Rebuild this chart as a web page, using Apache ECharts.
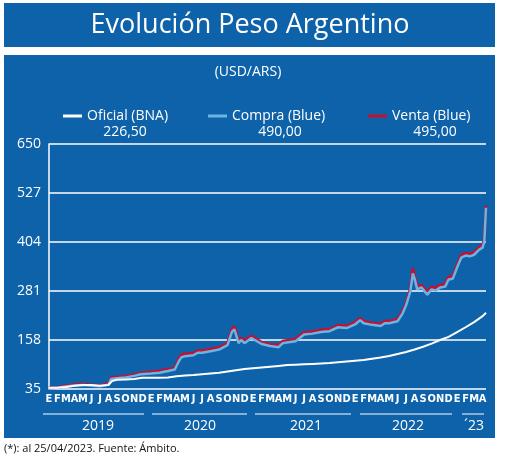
<!DOCTYPE html>
<html><head><meta charset="utf-8">
<script src="https://cdn.jsdelivr.net/npm/echarts@6/dist/echarts.min.js"></script>
<style>html,body{margin:0;padding:0;background:#fff;}#c{width:520px;height:459px;}</style>
</head><body><div id="c"></div>
<script>
const monthLabels = ['E','F','M','A','M','J','J','A','S','O','N','D','E','F','M','A','M','J','J','A','S','O','N','D','E','F','M','A','M','J','J','A','S','O','N','D','E','F','M','A','M','J','J','A','S','O','N','D','E','F','M','A'];
const yearLabels = ['2019','2020','2021','2022','´23'];
const yTicks = [35,158,281,404,527,650];
const oficial = [[0,38],[1,38],[2,40],[3,43],[4,45],[5,45],[6,43],[7,45],[7.4,55],[8,58],[9,59],[10,60],[11,63],
 [12,63],[13,63],[14,64],[15,67],[16,69],[17,70],[18,72],[19,74],[20,76],[21,79],[22,82],[23,85],
 [24,87],[25,89],[26,91],[27,93],[28,95],[29,96],[30,97],[31,98],[32,99],[33,100],[34,102],[35,104],
 [36,106],[37,108],[38,111],[39,114],[40,118],[41,123],[42,128],[43,134],[44,141],[45,149],[46,158],[47,166],
 [48,178],[49,190],[50,203],[51,218],[51.4,226.5]];
const compra = [[0,37],[1,38],[2,41],[3,44],[4,45],[5,43],[6,42],[7,46],[7.3,60],[8,62],[9,64],[10,68],[10.8,72],[11,70],
 [12,74],[13,76],[14,80],[14.8,84],[15.3,106],[15.6,115],[16,117],[17,120],[17.5,126],[18,126],[19,130],[20,134],[21,145],[21.5,178],[21.8,185],[22.3,150],[22.6,158],[23,150],[23.8,163],
 [24,158],[25,148],[26,143],[27,140],[27.5,150],[28,152],[29,155],[29.6,165],[30,172],[31,174],[32,178],[33,180],[34,190],[35,188],
 [36,197],[36.6,208],[37,200],[38,196],[39,193],[39.5,200],[40,200],[41,205],[41.6,225],[42,245],[42.5,280],[42.8,325],[43,312],[43.3,285],[43.8,290],[44,285],[44.5,272],[45,285],[45.5,282],[46,290],[46.6,292],[47,310],
 [47.5,312],[48,340],[48.5,365],[49,370],[49.5,368],[50,372],[50.6,385],[51,390],[51.2,405],[51.4,490]];
const venta = [[0,38],[1,39],[2,43],[3,46],[4,47],[5,45],[6,44],[7,48],[7.3,63],[8,65],[9,67],[10,71],[10.8,75],[11,73],
 [12,78],[13,80],[14,84],[14.8,88],[15.3,112],[15.6,121],[16,123],[17,125],[17.5,131],[18,131],[19,135],[20,139],[21,150],[21.5,184],[21.8,192],[22.3,155],[22.6,163],[23,156],[23.8,168],
 [24,163],[25,152],[26,147],[27,145],[27.5,155],[28,157],[29,160],[29.6,170],[30,177],[31,179],[32,183],[33,185],[34,195],[35,193],
 [36,202],[36.6,213],[37,205],[38,201],[39,198],[39.5,205],[40,205],[41,210],[41.6,230],[42,250],[42.5,286],[42.8,338],[43,318],[43.3,291],[43.8,296],[44,291],[44.5,278],[45,291],[45.5,288],[46,296],[46.6,298],[47,316],
 [47.5,318],[48,346],[48.5,371],[49,376],[49.5,374],[50,378],[50.6,391],[51,396],[51.2,410],[51.4,495]];
const legendValues = ['226,50','490,00','495,00'];

const BLUE = '#0d62a9', F = 'Open Sans';
const chart = echarts.init(document.getElementById('c'));
const yearPos = [[98,43,144],[200,152,247],[306,255,351],[408,360,452],[474,462,484]];
const g = [
 {type:'rect',shape:{x:4,y:3,width:491,height:44},style:{fill:BLUE},z:-10},
 {type:'rect',shape:{x:4,y:55,width:491,height:383},style:{fill:BLUE},z:-10},
 {type:'text',x:250,y:25,style:{text:'Evolución Peso Argentino',fill:'#fff',font:'500 27px "Open Sans"',align:'center',verticalAlign:'middle'}},
 {type:'text',x:248,y:72,style:{text:'(USD/ARS)',fill:'#fff',font:'14px "Open Sans"',align:'center',verticalAlign:'middle'}},
 {type:'text',x:4,y:449,style:{text:'(*): al 25/04/2023. Fuente: Ámbito.',fill:'#111',font:'11px "Open Sans"',verticalAlign:'middle'}}
];
[125,280,435].forEach((x,i)=>g.push({type:'text',x:x,y:132,style:{text:legendValues[i],fill:'#fff',font:'14px "Open Sans"',align:'center',verticalAlign:'middle'}}));
yearPos.forEach((p,i)=>{
 g.push({type:'line',shape:{x1:p[1],y1:414,x2:p[2],y2:414},style:{stroke:'#fff',lineWidth:1}});
 g.push({type:'text',x:p[0],y:426,style:{text:yearLabels[i],fill:'#fff',font:'14px "Open Sans"',align:'center',verticalAlign:'middle'}});
});
const leg = (name,left)=>({data:[name],left:left,top:104,itemWidth:19,itemHeight:3,icon:'rect',textStyle:{color:'#fff',fontSize:14,fontFamily:F},selectedMode:false});
chart.setOption({
 animation:false,
 backgroundColor:'#fff',
 graphic:g,
 legend:[leg('Oficial (BNA)',58),leg('Compra (Blue)',203),leg('Venta (Blue)',363)],
 grid:{left:49,right:34,top:144,bottom:70},
 xAxis:{type:'value',min:0,max:51.4,interval:1,
  axisLine:{show:false},axisTick:{show:false},splitLine:{show:false},
  axisLabel:{color:'#fff',fontSize:11,fontFamily:'DejaVu Sans Condensed',fontWeight:'bold',margin:5,showMaxLabel:false,
   formatter:v=>Number.isInteger(v)&&monthLabels[v]?monthLabels[v]:''}},
 yAxis:{type:'value',min:yTicks[0],max:yTicks[yTicks.length-1],interval:yTicks[1]-yTicks[0],
  axisLine:{show:true,lineStyle:{color:'#fff',width:1.5}},axisTick:{show:false},
  splitLine:{lineStyle:{color:'#fff',width:1.5}},
  axisLabel:{color:'#fff',fontSize:14,fontFamily:F,margin:8}},
 series:[
  {name:'Venta (Blue)',type:'line',data:venta,showSymbol:false,lineStyle:{color:'#c8102e',width:3},itemStyle:{color:'#c8102e'},z:2},
  {name:'Compra (Blue)',type:'line',data:compra,showSymbol:false,lineStyle:{color:'#6cb4e4',width:2.5},itemStyle:{color:'#6cb4e4'},z:3},
  {name:'Oficial (BNA)',type:'line',data:oficial,showSymbol:false,lineStyle:{color:'#fff',width:2},itemStyle:{color:'#fff'},z:4}
 ]
});
</script></body></html>
